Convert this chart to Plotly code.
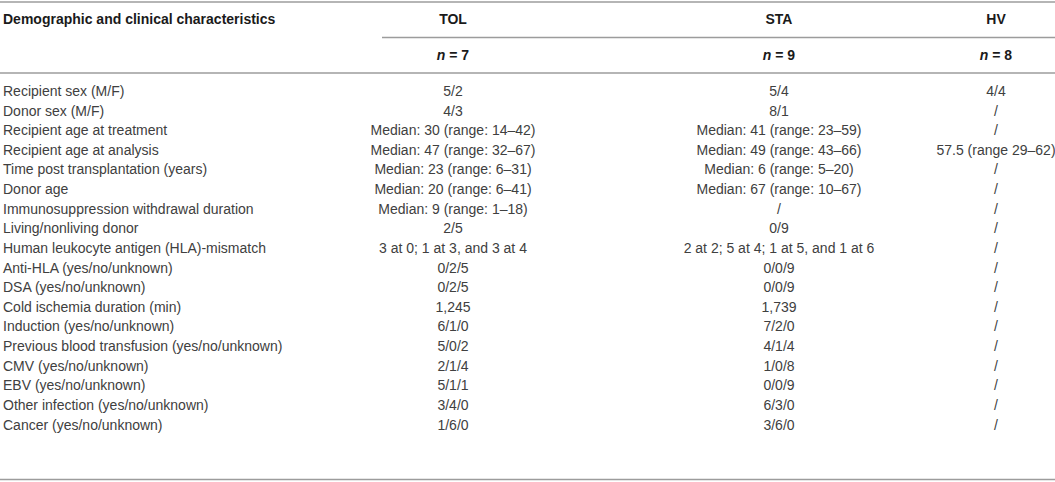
import plotly.graph_objects as go

characteristics = [
    "Recipient sex (M/F)",
    "Donor sex (M/F)",
    "Recipient age at treatment",
    "Recipient age at analysis",
    "Time post transplantation (years)",
    "Donor age",
    "Immunosuppression withdrawal duration",
    "Living/nonliving donor",
    "Human leukocyte antigen (HLA)-mismatch",
    "Anti-HLA (yes/no/unknown)",
    "DSA (yes/no/unknown)",
    "Cold ischemia duration (min)",
    "Induction (yes/no/unknown)",
    "Previous blood transfusion (yes/no/unknown)",
    "CMV (yes/no/unknown)",
    "EBV (yes/no/unknown)",
    "Other infection (yes/no/unknown)",
    "Cancer (yes/no/unknown)",
]
tol_values = [
    "5/2", "4/3",
    "Median: 30 (range: 14\u201342)",
    "Median: 47 (range: 32\u201367)",
    "Median: 23 (range: 6\u201331)",
    "Median: 20 (range: 6\u201341)",
    "Median: 9 (range: 1\u201318)",
    "2/5",
    "3 at 0; 1 at 3, and 3 at 4",
    "0/2/5", "0/2/5", "1,245", "6/1/0", "5/0/2", "2/1/4", "5/1/1", "3/4/0", "1/6/0",
]
sta_values = [
    "5/4", "8/1",
    "Median: 41 (range: 23\u201359)",
    "Median: 49 (range: 43\u201366)",
    "Median: 6 (range: 5\u201320)",
    "Median: 67 (range: 10\u201367)",
    "/",
    "0/9",
    "2 at 2; 5 at 4; 1 at 5, and 1 at 6",
    "0/0/9", "0/0/9", "1,739", "7/2/0", "4/1/4", "1/0/8", "0/0/9", "6/3/0", "3/6/0",
]
hv_values = [
    "4/4", "/", "/", "57.5 (range 29\u201362)",
    "/", "/", "/", "/", "/", "/", "/", "/", "/", "/", "/", "/", "/", "/",
]
group_names = ["TOL", "STA", "HV"]
group_n = [7, 9, 8]
header_label = "Demographic and clinical characteristics"

W, H = 1055, 482
FONT = "Liberation Sans"
TXT = "#404040"
HEAD = "#1a1a1a"
LINE = "#9c9c9c"

col_x = [453, 779, 996]
row0, row_step = 92.5, 19.62
rows_y = [row0 + i * row_step for i in range(len(characteristics))]
head_y, n_y = 20, 56

fig = go.Figure()

fig.add_trace(go.Scatter(
    x=[3] * len(characteristics), y=rows_y, text=characteristics,
    mode="text", textposition="middle right",
    textfont=dict(family=FONT, size=14, color=TXT), hoverinfo="skip"))

for cx, vals in zip(col_x, [tol_values, sta_values, hv_values]):
    fig.add_trace(go.Scatter(
        x=[cx] * len(vals), y=rows_y, text=vals,
        mode="text", textposition="middle center",
        textfont=dict(family=FONT, size=14, color=TXT), hoverinfo="skip"))

fig.add_trace(go.Scatter(
    x=[3], y=[head_y], text=["<b>" + header_label + "</b>"],
    mode="text", textposition="middle right",
    textfont=dict(family=FONT, size=14, color=HEAD), hoverinfo="skip"))
fig.add_trace(go.Scatter(
    x=col_x, y=[head_y] * 3, text=["<b>%s</b>" % g for g in group_names],
    mode="text", textposition="middle center",
    textfont=dict(family=FONT, size=14, color=HEAD), hoverinfo="skip"))
fig.add_trace(go.Scatter(
    x=col_x, y=[n_y] * 3, text=["<b><i>n</i> = %d</b>" % n for n in group_n],
    mode="text", textposition="middle center",
    textfont=dict(family=FONT, size=14, color=HEAD), hoverinfo="skip"))

for x0, y0 in [(0, 2), (382, 37.5), (0, 73), (0, 479.5)]:
    fig.add_shape(type="line", x0=x0, x1=W, y0=y0, y1=y0, xref="x", yref="y",
                  line=dict(color=LINE, width=1.5))

fig.update_layout(
    width=W, height=H, margin=dict(l=0, r=0, t=0, b=0),
    paper_bgcolor="white", plot_bgcolor="white", showlegend=False,
    xaxis=dict(range=[0, W], visible=False, fixedrange=True),
    yaxis=dict(range=[H, 0], visible=False, fixedrange=True),
)
fig.write_html(
    "out.html",
    config={"displayModeBar": False},
    post_script="document.body.style.margin='0';document.body.style.overflow='hidden';",
)
